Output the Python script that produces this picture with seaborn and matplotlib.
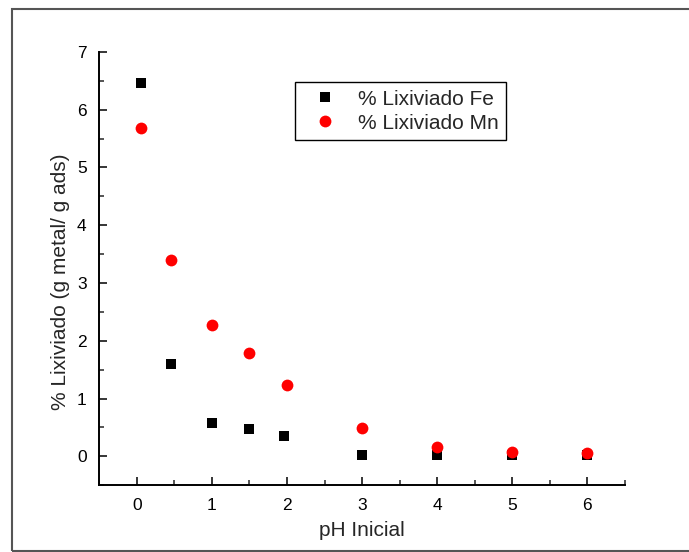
import matplotlib
matplotlib.use("Agg")
import matplotlib.pyplot as plt
from matplotlib.lines import Line2D
from matplotlib.ticker import MultipleLocator
import seaborn as sns
import pandas as pd

# Leaching results versus initial pH
ph_fe = [0.05, 0.45, 1.0, 1.5, 1.96, 3.0, 4.0, 5.0, 6.0]
lix_fe = [6.47, 1.60, 0.58, 0.47, 0.36, 0.02, 0.02, 0.02, 0.02]
ph_mn = [0.05, 0.45, 1.0, 1.5, 2.0, 3.0, 4.0, 5.0, 6.0]
lix_mn = [5.68, 3.39, 2.27, 1.79, 1.24, 0.49, 0.16, 0.08, 0.05]

label_fe = "% Lixiviado Fe"
label_mn = "% Lixiviado Mn"
x_ticks = [0, 1, 2, 3, 4, 5, 6]
y_ticks = [0, 1, 2, 3, 4, 5, 6, 7]

sns.set_theme(style="ticks")
plt.rcParams["font.family"] = ["Liberation Sans", "DejaVu Sans"]

fig = plt.figure(figsize=(6.89, 5.52), dpi=100)
ax = fig.add_axes([0.144, 0.121, 0.763, 0.785])

df_fe = pd.DataFrame({"pH": ph_fe, "val": lix_fe})
df_mn = pd.DataFrame({"pH": ph_mn, "val": lix_mn})

sns.scatterplot(data=df_fe, x="pH", y="val", marker="s", s=50, color="black",
                edgecolor="black", linewidth=0, ax=ax, zorder=3)
sns.scatterplot(data=df_mn, x="pH", y="val", marker="o", s=72, color="#ff0000",
                edgecolor="#ff0000", linewidth=0, ax=ax, zorder=4)

ax.set_xlim(-0.5, 6.5)
ax.set_ylim(-0.5, 7)
ax.set_xticks(x_ticks)
ax.set_yticks(y_ticks)
ax.xaxis.set_minor_locator(MultipleLocator(0.5))
ax.yaxis.set_minor_locator(MultipleLocator(0.5))
ax.tick_params(which="major", direction="in", length=6, width=1.1,
               labelsize=12.5, pad=9, colors="black")
ax.tick_params(which="minor", direction="in", length=3.5, width=1.1)
ax.tick_params(axis="x", which="both", top=False)
ax.tick_params(axis="y", which="both", right=False)

for side in ["top", "right"]:
    ax.spines[side].set_visible(False)
for side in ["left", "bottom"]:
    ax.spines[side].set_linewidth(1.4)
    ax.spines[side].set_color("black")

ax.set_xlabel("pH Inicial", fontsize=15, labelpad=6)
ax.set_ylabel("% Lixiviado (g metal/ g ads)", fontsize=15)
ax.yaxis.set_label_coords(-0.056, 0.47)

handles = [
    Line2D([], [], linestyle="none", marker="s", markersize=7,
           color="black", markeredgewidth=0),
    Line2D([], [], linestyle="none", marker="o", markersize=8.5,
           color="#ff0000", markeredgewidth=0),
]
leg = ax.legend(handles, [label_fe, label_mn], loc="upper left",
                bbox_to_anchor=(0.3726, 0.93), fontsize=15, frameon=True,
                fancybox=False, edgecolor="black", framealpha=1,
                handletextpad=0.45, borderpad=0.35, labelspacing=0.25,
                handlelength=2.2, borderaxespad=0)
leg.get_frame().set_linewidth(1.0)

# Frame around the whole figure
fig.patches.append(plt.Rectangle((11.5 / 689, 1 - 550.5 / 552),
                                 1.2, (550.5 - 9) / 552,
                                 transform=fig.transFigure, fill=False,
                                 edgecolor="#555555", linewidth=1.5))

fig.savefig("out.png", dpi=100)
